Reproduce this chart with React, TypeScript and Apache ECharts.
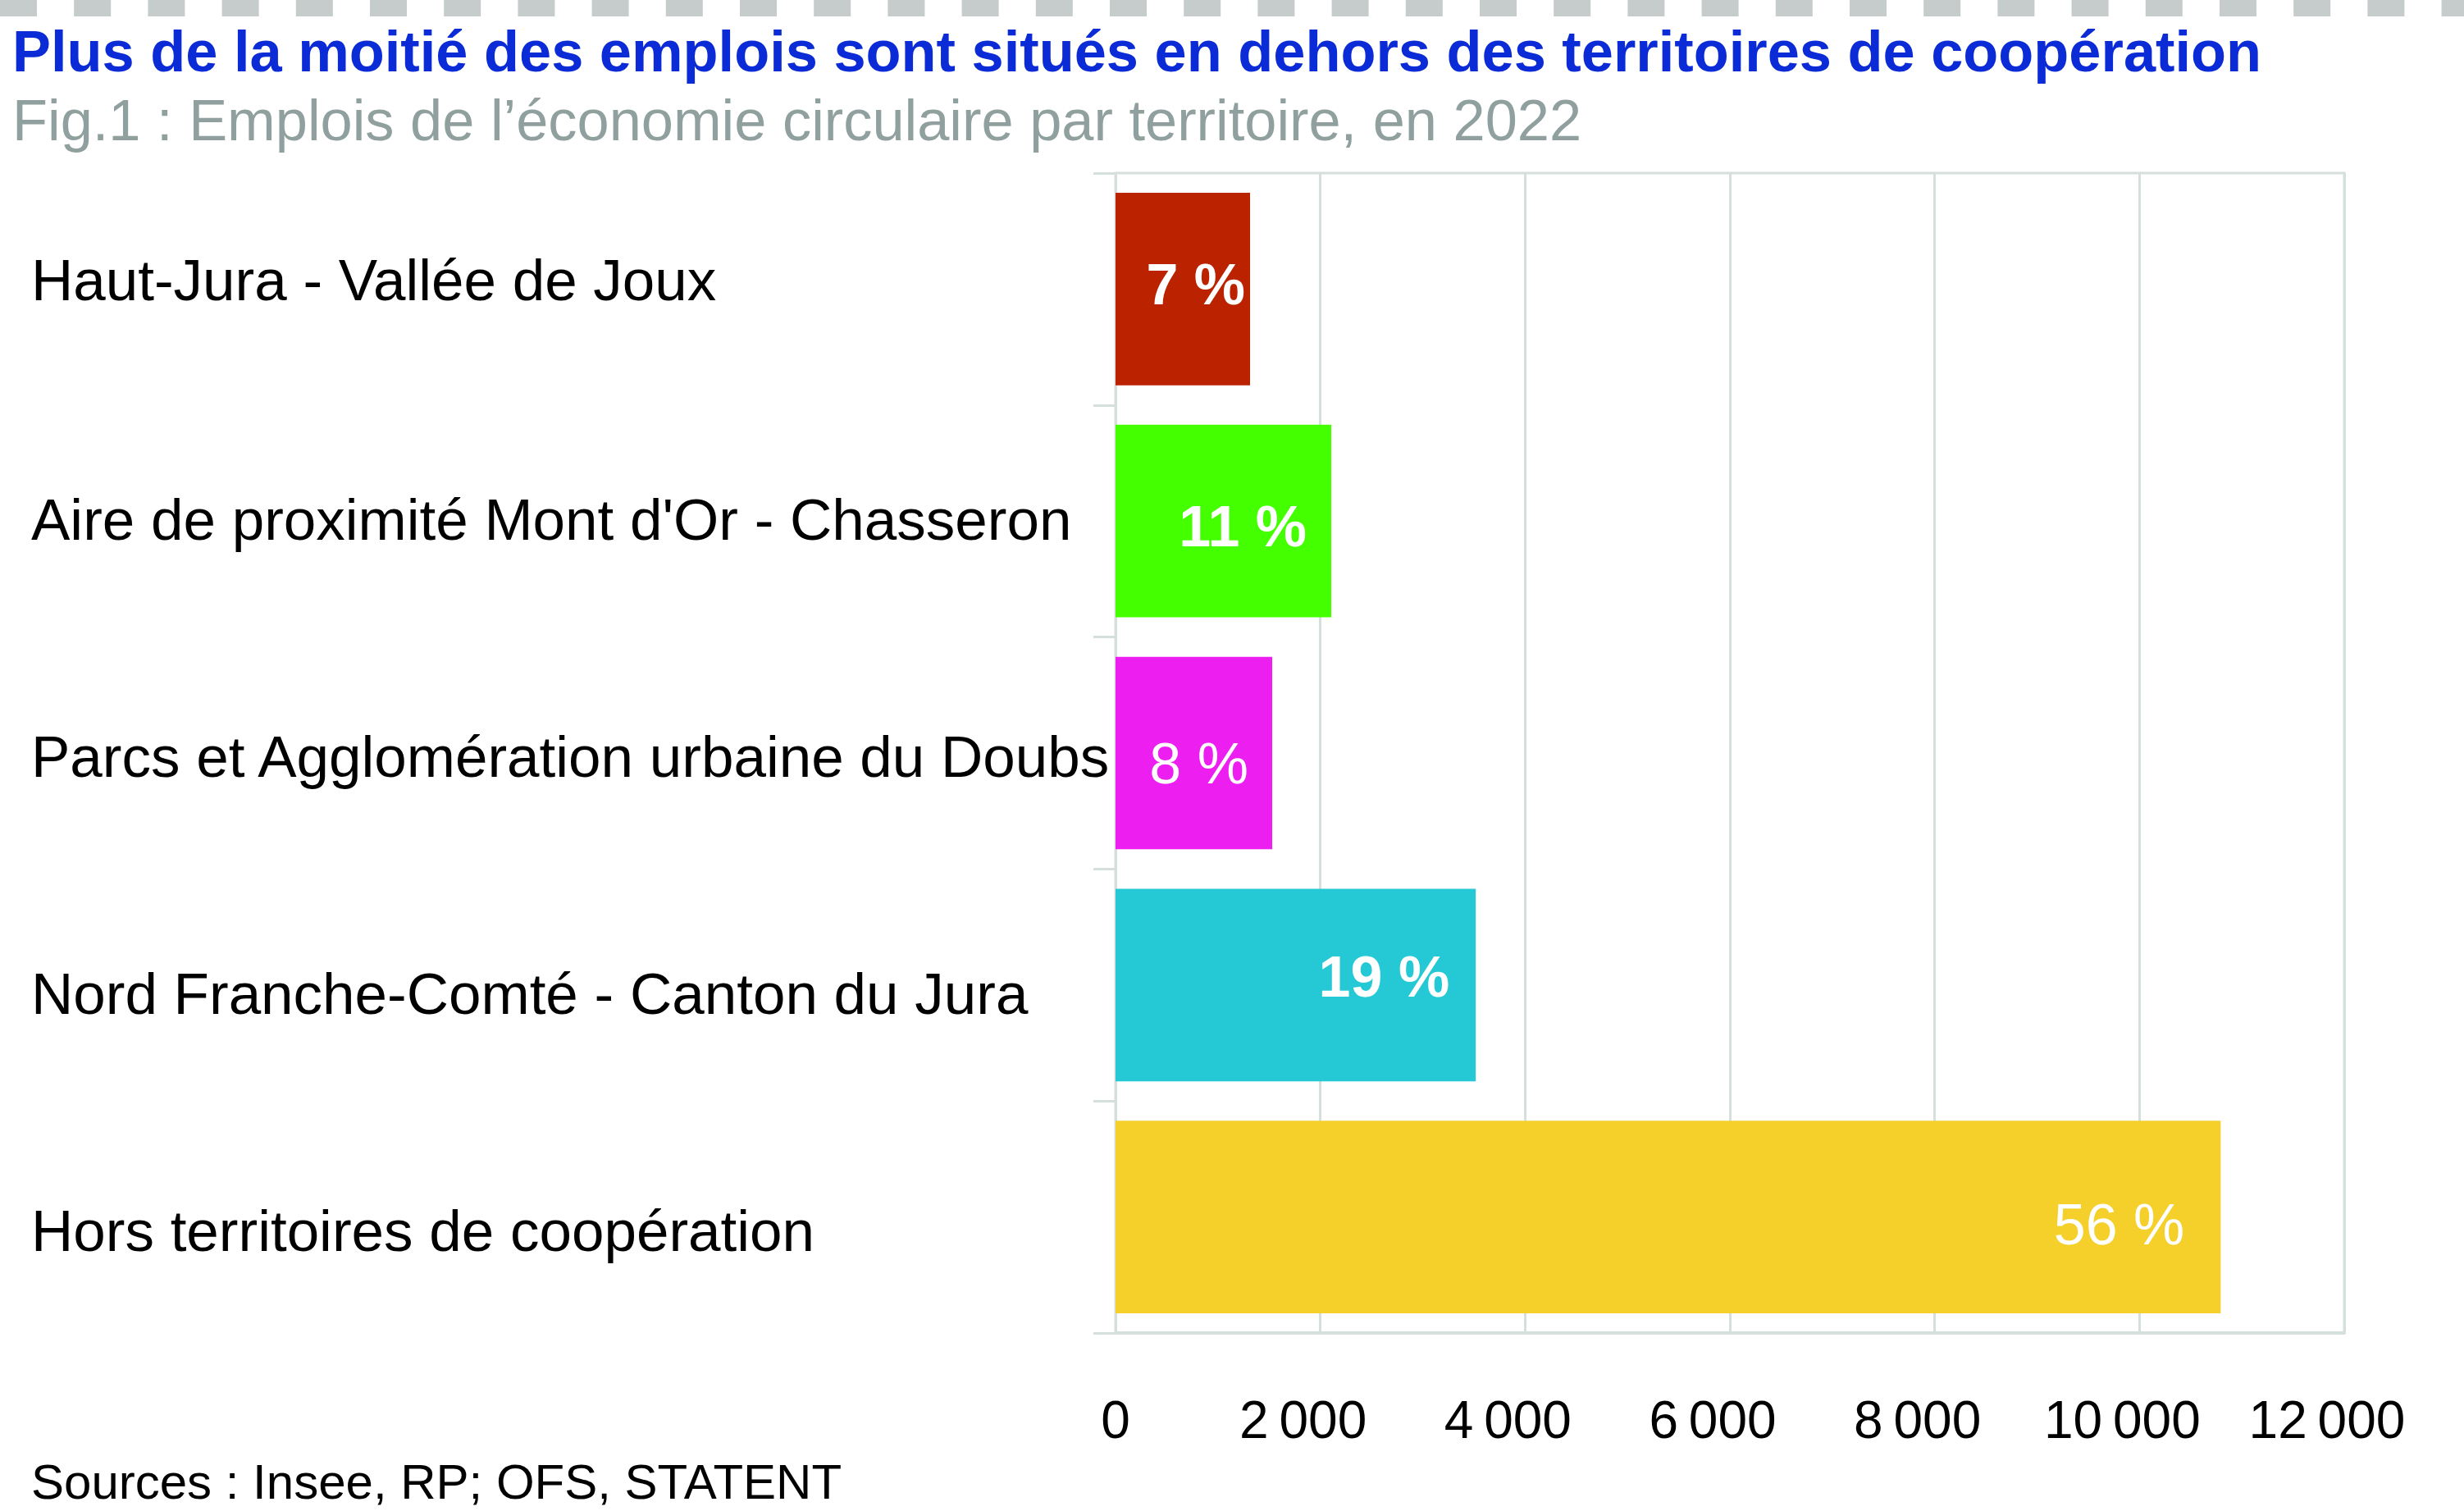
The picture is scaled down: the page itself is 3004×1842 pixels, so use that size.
import React, { useEffect, useRef } from "react";
import * as echarts from "echarts";

const categories = [
  "Haut-Jura - Vallée de Joux",
  "Aire de proximité Mont d'Or - Chasseron",
  "Parcs et Agglomération urbaine du Doubs",
  "Nord Franche-Comté - Canton du Jura",
  "Hors territoires de coopération",
];
const emplois = [1314, 2107, 1530, 3518, 10793];
const shares = ["7 %", "11 %", "8 %", "19 %", "56 %"];
const barColors = ["#bb2200", "#44ff00", "#ec1ef0", "#25c9d6", "#f5cf2a"];
const labelWeights = ["bold", "bold", "normal", "bold", "normal"];
const labelDistances = [6, 30, 29, 32, 44];
const labelOffsetsY = [-5, 7, 13, -10, 9];
const categoryShiftY = [-11, -2, 4, 11, 17];

const titleText =
  "Plus de la moitié des emplois sont situés en dehors des territoires de coopération";
const subtitleText = "Fig.1 : Emplois de l\u2019économie circulaire par territoire, en 2022";
const sourceText = "Sources : Insee, RP; OFS, STATENT";

const FONT = "'Liberation Sans', Arial, Helvetica, sans-serif";
const GRID = "#d5e0dd";

function fmtThousands(v: number): string {
  const s = String(Math.round(v));
  return s.replace(/\B(?=(\d{3})+(?!\d))/g, "\u2009");
}

export default function App() {
  const ref = useRef<HTMLDivElement>(null);

  useEffect(() => {
    document.body.style.margin = "0";
    if (!ref.current) return;
    const chart = echarts.init(ref.current, null, { renderer: "svg" });

    const dashes: any[] = [];
    for (let i = 0; i < 34; i++) {
      dashes.push({
        type: "rect",
        shape: { x: i * 90.2, y: 0, width: 45, height: 20 },
        style: { fill: "#c5cccb" },
        silent: true,
      });
    }

    const catRich: any = {};
    categoryShiftY.forEach((s, i) => {
      catRich["c" + i] = {
        fontSize: 71,
        fontFamily: FONT,
        color: "#000000",
        padding: s < 0 ? [0, 0, -2 * s, 0] : [2 * s, 0, 0, 0],
      };
    });

    const option: any = {
      animation: false,
      backgroundColor: "#ffffff",
      grid: {
        left: 1360,
        top: 211,
        width: 1498,
        height: 1414,
        show: true,
        borderColor: GRID,
        borderWidth: 3,
        containLabel: false,
      },
      xAxis: {
        type: "value",
        min: 0,
        max: 12000,
        interval: 2000,
        axisLine: { show: true, lineStyle: { color: GRID, width: 4 } },
        axisTick: { show: false },
        splitLine: { show: true, lineStyle: { color: GRID, width: 3 } },
        axisLabel: {
          margin: 74,
          fontSize: 64,
          fontFamily: FONT,
          color: "#000000",
          formatter: (v: number) =>
            v === 0 ? "{z|0}" : "{n|" + fmtThousands(v) + "}",
          rich: {
            z: { fontSize: 64, fontFamily: FONT, color: "#000000" },
            n: {
              fontSize: 64,
              fontFamily: FONT,
              color: "#000000",
              padding: [0, 42, 0, 0],
            },
          },
        },
      },
      yAxis: {
        type: "category",
        inverse: true,
        data: categories,
        axisLine: { show: true, lineStyle: { color: GRID, width: 3 } },
        axisTick: { show: true, length: 27, lineStyle: { color: GRID, width: 3 } },
        axisLabel: {
          align: "left",
          margin: 1322,
          fontSize: 71,
          fontFamily: FONT,
          color: "#000000",
          formatter: (v: string, i: number) => "{c" + i + "|" + v + "}",
          rich: catRich,
        },
        splitLine: { show: false },
      },
      series: [
        {
          type: "bar",
          barCategoryGap: "17%",
          data: emplois.map((v, i) => ({
            value: v,
            itemStyle: { color: barColors[i] },
            label: {
              show: true,
              position: "insideRight",
              distance: labelDistances[i],
              formatter: shares[i],
              color: "#ffffff",
              fontSize: 70,
              fontWeight: labelWeights[i],
              fontFamily: FONT,
              offset: [0, labelOffsetsY[i]],
            },
          })),
        },
      ],
      graphic: [
        ...dashes,
        {
          type: "text",
          x: 15,
          y: 62,
          style: {
            text: titleText,
            font: "bold 70.4px " + FONT,
            fill: "#0b2bd6",
            verticalAlign: "middle",
            align: "left",
          },
        },
        {
          type: "text",
          x: 15,
          y: 146,
          style: {
            text: subtitleText,
            font: "70.4px " + FONT,
            fill: "#8fa09e",
            verticalAlign: "middle",
            align: "left",
          },
        },
        {
          type: "text",
          x: 38,
          y: 1806,
          style: {
            text: sourceText,
            font: "60px " + FONT,
            fill: "#000000",
            verticalAlign: "middle",
            align: "left",
          },
        },
      ],
    };

    chart.setOption(option);
    return () => chart.dispose();
  }, []);

  return <div ref={ref} style={{ width: 3004, height: 1842 }} />;
}
